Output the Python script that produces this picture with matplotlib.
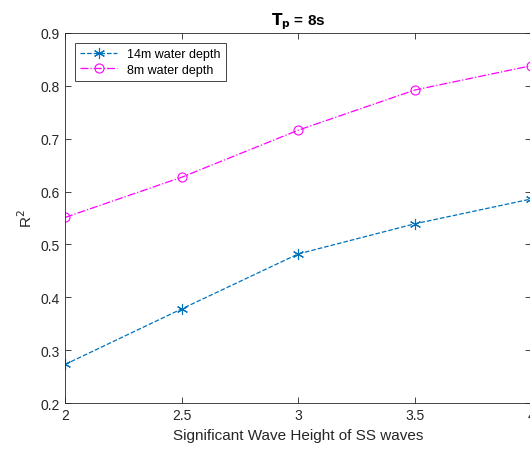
import matplotlib.pyplot as plt

plt.rcParams['font.family'] = ['Liberation Sans', 'DejaVu Sans']

# data
wave_height = [2, 2.5, 3, 3.5, 4]
r2_14m = [0.273, 0.378, 0.482, 0.539, 0.586]
r2_8m = [0.551, 0.627, 0.716, 0.792, 0.838]

fig = plt.figure(figsize=(5.3, 4.52), dpi=100)
ax = fig.add_axes([0.1226, 0.106, 0.88, 0.819])

ax.plot(wave_height, r2_14m, linestyle='--', color='#0072BD', marker=(6, 2, 0),
        markersize=8, markeredgewidth=0.8, linewidth=0.9, label='14m water depth')
ax.plot(wave_height, r2_8m, linestyle='-.', color='#FF00FF', marker='o',
        markerfacecolor='none', markersize=6.5, markeredgewidth=0.8,
        linewidth=0.9, label='8m water depth')

ax.set_xlim(2, 4)
ax.set_ylim(0.2, 0.9)
ax.set_xticks([2, 2.5, 3, 3.5, 4])
ax.set_yticks([0.2, 0.3, 0.4, 0.5, 0.6, 0.7, 0.8, 0.9])
ax.set_xticklabels(['2', '2.5', '3', '3.5', '4'])
ax.set_yticklabels(['0.2', '0.3', '0.4', '0.5', '0.6', '0.7', '0.8', '0.9'])
ax.tick_params(direction='in', top=True, right=True, labelsize=10,
               colors='#262626', length=4, width=0.6)
for s in ax.spines.values():
    s.set_color('#262626')
    s.set_linewidth(0.6)

ax.set_xlabel('Significant Wave Height of SS waves', fontsize=11, color='#262626')
ax.set_ylabel(r'R$^2$', fontsize=11, color='#262626')
ax.set_title(r'$\mathbf{T_p}$ = 8s', fontsize=11, fontweight='bold')

leg = ax.legend(loc='upper left', fontsize=9, fancybox=False, edgecolor='#262626',
                borderaxespad=0.8, handlelength=3.0, framealpha=1, labelspacing=0.3)
leg.get_frame().set_linewidth(0.6)

fig.savefig('out.png', dpi=100)
